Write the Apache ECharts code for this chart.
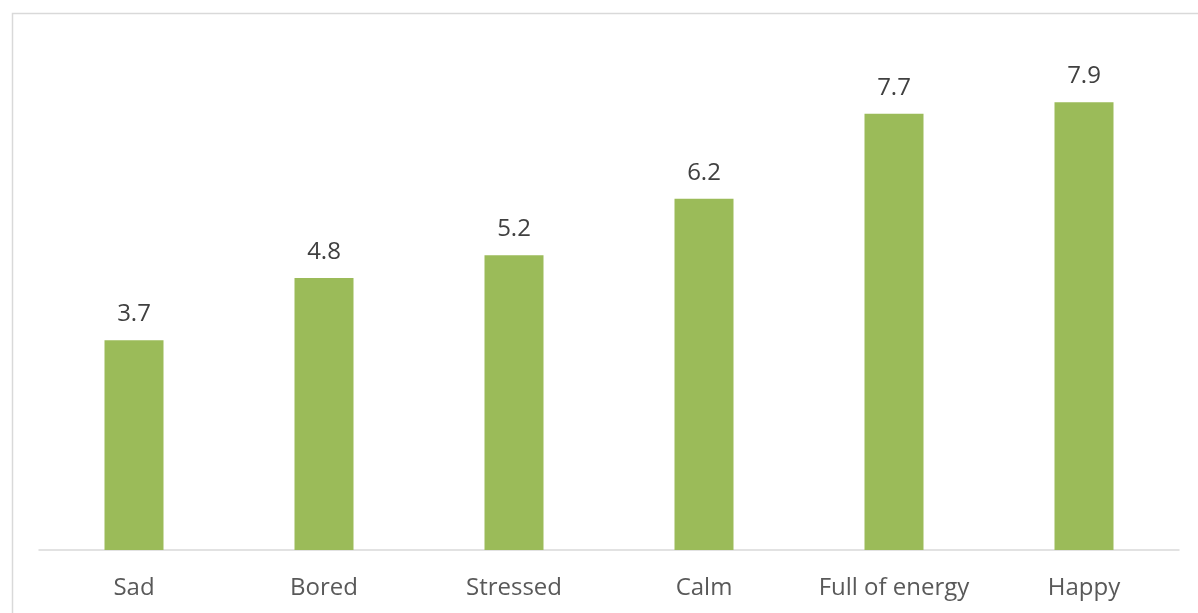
<!DOCTYPE html>
<html>
<head>
<meta charset="utf-8">
<style>
  html, body { margin: 0; padding: 0; background: #ffffff; }
  #chart { width: 1198px; height: 613px; }
</style>
<script src="https://cdn.jsdelivr.net/npm/echarts@6/dist/echarts.min.js"></script>
</head>
<body>
<div id="chart"></div>
<script>
// Mood categories and their average scores
const categories = ['Sad', 'Bored', 'Stressed', 'Calm', 'Full of energy', 'Happy'];
const scores = [3.7, 4.8, 5.2, 6.2, 7.7, 7.9];

const chart = echarts.init(document.getElementById('chart'), null, { renderer: 'canvas' });

chart.setOption({
  animation: false,
  backgroundColor: '#ffffff',
  textStyle: { fontFamily: '"Open Sans", "Noto Sans", sans-serif' },
  graphic: [{
    // chart frame
    type: 'rect',
    left: 10, top: 11,
    shape: { width: 1300, height: 800 },
    style: { fill: 'none', stroke: '#d9d9d9', lineWidth: 1.5 },
    silent: true
  }],
  grid: { left: 39, right: 19, top: 40, bottom: 63, containLabel: false },
  xAxis: {
    type: 'category',
    data: categories,
    axisTick: { show: false },
    axisLine: { lineStyle: { color: '#d9d9d9', width: 1.5 } },
    axisLabel: {
      interval: 0,
      hideOverlap: false,
      color: '#595959',
      fontSize: 24,
      margin: 26,
      fontFamily: '"Open Sans", sans-serif'
    }
  },
  yAxis: {
    type: 'value',
    min: 0, max: 9, interval: 1,
    show: false,
    splitLine: { show: false }
  },
  series: [{
    type: 'bar',
    data: scores,
    barWidth: 59,
    itemStyle: { color: '#9bbb59' },
    label: {
      show: true,
      position: 'top',
      distance: 14,
      color: '#404040',
      fontSize: 24,
      fontFamily: '"Open Sans", sans-serif',
      formatter: p => p.value.toFixed(1)
    }
  }]
});
</script>
</body>
</html>
